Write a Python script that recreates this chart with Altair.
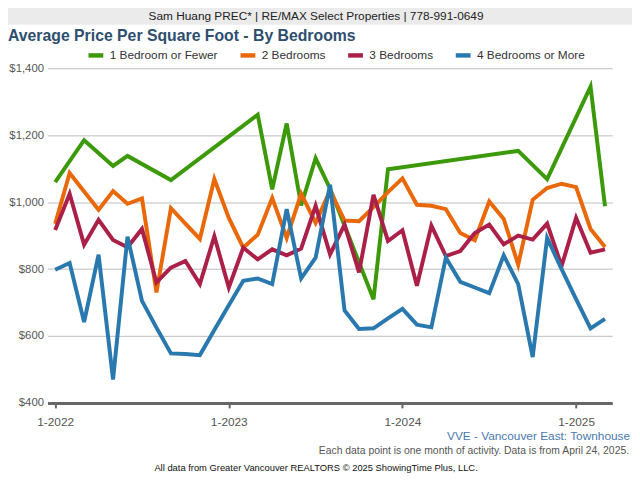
import altair as alt
import pandas as pd

# ---- data (monthly, Jan 2022 .. Mar 2025; None = no sales that month) ----
months = list(range(39))
series_names = ["1 Bedroom or Fewer", "2 Bedrooms", "3 Bedrooms", "4 Bedrooms or More"]
series_colors = ["#3c9a0a", "#e8680a", "#aa2048", "#2a79ae"]

one_bed = [1060, None, 1185, None, 1108, 1138, None, None, 1066, None,
           None, None, None, None, 1261, 1038, 1235, 990, 1131, 1040,
           None, None, 710, 1098, None, None, None, None, None, None,
           None, None, 1153, None, 1069, None, None, 1345, 988]
two_bed = [935, 1087, 1032, 977, 1033, 995, 1011, 730, 982, 936,
           890, 1069, 953, 864, 903, 1012, 893, 1025, 938, 1035,
           945, 943, 985, 1030, 1071, 992, 989, 979, 908, 886,
           1002, 950, 813, 1007, 1042, 1055, 1045, 920, 866]
three_bed = [917, 1025, 873, 947, 887, 865, 920, 760, 804, 824,
             755, 898, 745, 864, 829, 859, 841, 861, 989, 844,
             933, 790, 1022, 884, 916, 750, 930, 839, 854, 908,
             933, 874, 900, 888, 936, 809, 953, 849, 859]
four_bed = [798, 818, 642, 843, 470, 897, 705, 625, 548, 546,
            543, 618, 692, 765, 772, 755, 979, 772, 834, 1052,
            676, 621, 623, 653, 681, 634, 626, 834, 762, 745,
            728, 841, 755, 537, 893, 800, 710, 623, 651]

y_ticks = [400, 600, 800, 1000, 1200, 1400]
x_ticks = [0, 12, 24, 36]

header_text = "Sam Huang PREC* | RE/MAX Select Properties | 778-991-0649"
title_text = "Average Price Per Square Foot - By Bedrooms"
area_text = "VVE - Vancouver East: Townhouse"
note_text = "Each data point is one month of activity. Data is from April 24, 2025."
source_text = "All data from Greater Vancouver REALTORS \u00a9 2025 ShowingTime Plus, LLC."

rows = []
for name, vals in zip(series_names, [one_bed, two_bed, three_bed, four_bed]):
    for m, v in zip(months, vals):
        if v is not None:
            rows.append({"m": m, "v": v, "series": name})
df = pd.DataFrame(rows)

FONT = "Liberation Sans"
W, H = 572, 339

lines = alt.Chart(df).mark_line(strokeWidth=4).encode(
    x=alt.X("m:Q",
            scale=alt.Scale(domain=[-0.53, 38.5], nice=False, zero=False),
            axis=alt.Axis(values=x_ticks, title=None, grid=False,
                          labelExpr="'1-' + (2022 + datum.value / 12)",
                          labelFontSize=12, labelColor="#555", labelFont=FONT,
                          domainColor="#666", domainWidth=3,
                          tickColor="#666", tickSize=5, tickWidth=2,
                          labelPadding=9)),
    y=alt.Y("v:Q",
            scale=alt.Scale(domain=[400, 1400], nice=False, zero=False),
            axis=alt.Axis(values=y_ticks, title=None, format="$,d",
                          grid=True, gridColor="#bdbdbd", gridWidth=1,
                          domain=False, ticks=False, labelPadding=4,
                          labelFontSize=11.5, labelColor="#555", labelFont=FONT)),
    color=alt.Color("series:N",
                    scale=alt.Scale(domain=series_names, range=series_colors),
                    legend=alt.Legend(orient="none", legendX=39, legendY=-23,
                                      direction="horizontal", title=None,
                                      symbolType="stroke", symbolSize=225,
                                      symbolStrokeWidth=4.5,
                                      labelFontSize=12, labelColor="#333",
                                      labelFont=FONT, labelOffset=4,
                                      columnPadding=13)),
)

def text_layer(txt, x, y, size, color, align="left", weight="normal"):
    return alt.Chart(pd.DataFrame({"t": [txt]})).mark_text(
        align=align, baseline="middle", fontSize=size, font=FONT,
        color=color, fontWeight=weight,
    ).encode(text="t:N", x=alt.value(x), y=alt.value(y))

header_bar = alt.Chart(pd.DataFrame({"t": [0]})).mark_rect(color="#ebebeb").encode(
    x=alt.value(-48), x2=alt.value(W + 30), y=alt.value(-70), y2=alt.value(-44)
)

chart = alt.layer(
    header_bar,
    text_layer(header_text, 272, -53, 12, "#222", align="center"),
    text_layer(title_text, -40, -33, 16, "#2e4e6f", weight="bold"),
    lines,
    text_layer(area_text, 590, 373, 12, "#4a78ae", align="right"),
    text_layer(note_text, 589, 388, 10.5, "#555", align="right"),
    text_layer(source_text, 272, 405, 9.5, "#111", align="center"),
).properties(
    width=W, height=H,
    autosize=alt.AutoSizeParams(type="none"),
    padding={"left": 40, "top": 58, "right": 20, "bottom": 75},
    background="white",
).configure_view(stroke=None)

chart.save("out.html", embed_options={"renderer": "svg", "actions": False})
